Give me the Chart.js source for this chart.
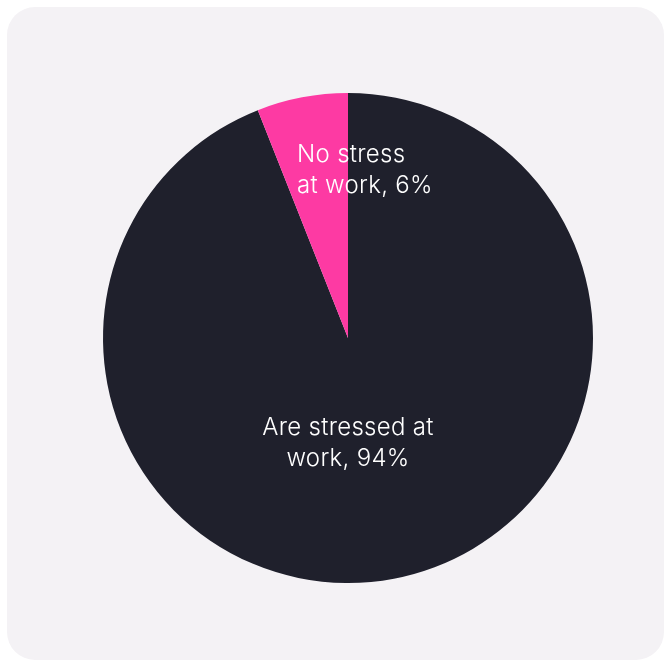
<!DOCTYPE html>
<html>
<head>
<meta charset="utf-8">
<script src="https://cdn.jsdelivr.net/npm/chart.js@4"></script>
<style>
  html, body { margin: 0; padding: 0; background: #ffffff; }
  .card {
    position: absolute;
    left: 7px; top: 7px;
    width: 657px; height: 653px;
    border-radius: 28px;
    background: #f4f2f5;
  }
  #stressChart { position: absolute; left: 0; top: 0; }
</style>
</head>
<body>
<div class="card"></div>
<canvas id="stressChart" width="666" height="662"></canvas>
<script>
const categories = ['Are stressed at work', 'No stress at work'];
const shares = [94, 6];
const sliceColors = ['#1f202c', '#fd3aa3'];
const sliceLabels = [['Are stressed at', 'work, 94%'], ['No stress', 'at work, 6%']];

// label placement relative to pie centre, in units of the radius (baseline of first line)
const labelSpots = [
    { dx: 0, dy: 0.396, align: 'center' },
    { dx: -0.208, dy: -0.718, align: 'left' }
];

const sliceText = {
    id: 'sliceText',
    afterDatasetsDraw(chart) {
        const arc = chart.getDatasetMeta(0).data[0];
        const ctx = chart.ctx;
        ctx.save();
        ctx.fillStyle = '#ffffff';
        ctx.font = '300 24px Inter, "Open Sans", sans-serif';
        ctx.letterSpacing = '0.3px';
        ctx.textBaseline = 'alphabetic';
        sliceLabels.forEach((lines, i) => {
            const spot = labelSpots[i];
            ctx.textAlign = spot.align;
            const x = arc.x + spot.dx * arc.outerRadius;
            const y = arc.y + spot.dy * arc.outerRadius;
            lines.forEach((line, j) => {
                ctx.fillText(line, x, y + j * 31);
            });
        });
        ctx.restore();
    }
};

new Chart(document.getElementById('stressChart'), {
    type: 'pie',
    data: {
        labels: categories,
        datasets: [{
            data: shares,
            backgroundColor: sliceColors,
            borderWidth: 0
        }]
    },
    options: {
        responsive: false,
        animation: false,
        layout: { padding: { left: 103, right: 73, top: 93, bottom: 79 } },
        plugins: {
            legend: { display: false },
            tooltip: { enabled: false }
        }
    },
    plugins: [sliceText]
});
</script>
</body>
</html>
